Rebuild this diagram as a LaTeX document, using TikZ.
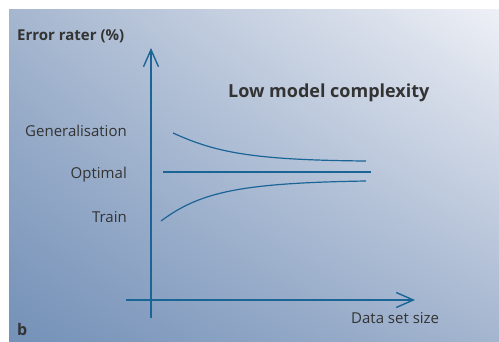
\documentclass[tikz,border=0pt]{standalone}
\usepackage{fontspec}
\setmainfont{Open Sans}
\usetikzlibrary{arrows.meta,shadings}
\definecolor{axisblue}{HTML}{1A6496}
\definecolor{textgray}{HTML}{333333}
\definecolor{bgll}{HTML}{7491B8}
\definecolor{bgul}{HTML}{A5B6CF}
\definecolor{bglr}{HTML}{A4B5CF}
\definecolor{bgur}{HTML}{EEF0F6}
\tikzset{
  axisline/.style={draw=axisblue, line width=1.5pt},
  axisarrow/.style={axisline, -{Straight Barb[length=17pt,width=15pt,line width=1.4pt]}},
  curveline/.style={draw=axisblue, line width=1.2pt},
  lbl/.style={text=textgray, font=\fontsize{15}{17}\selectfont, inner sep=0pt},
  title/.style={text=textgray, font=\bfseries\fontsize{18}{20}\selectfont, inner sep=0pt}
}
\begin{document}
\begin{tikzpicture}[x=1pt, y=-1pt]
  % page and shaded panel
  \useasboundingbox (0,0) rectangle (499,341);
  \fill[white] (0,0) rectangle (499,341);
  \shade[lower left=bgll, upper left=bgul, lower right=bglr, upper right=bgur]
    (9,341) rectangle (499,9);

  % axes
  \coordinate (ybot) at (151,318);
  \coordinate (ytop) at (151,48);
  \coordinate (xleft) at (126,300);
  \coordinate (xright) at (415,300);
  \draw[axisarrow] (ybot) -- (ytop);
  \draw[axisarrow] (xleft) -- (xright);

  % axis labels
  \node[lbl, anchor=west, font=\bfseries\fontsize{15}{17}\selectfont] (ylabel) at (17,36) {Error rater (\%)};
  \node[lbl, anchor=west] (xlabel) at (351,318) {Data set size};
  \node[title, anchor=west] (ttl) at (228,93) {Low model complexity};
  \node[lbl, anchor=west, font=\bfseries\fontsize{16}{18}\selectfont] (panel) at (17,329) {b};

  % curve labels
  \node[lbl, anchor=east] (gen) at (127,131) {Generalisation};
  \node[lbl, anchor=east] (opt) at (127,175) {Optimal};
  \node[lbl, anchor=east] (trn) at (127,217) {Train};

  % curves
  \coordinate (g0) at (173,133);
  \coordinate (g1) at (366,161);
  \coordinate (o0) at (163,172);
  \coordinate (o1) at (371,172);
  \coordinate (t0) at (161,221);
  \coordinate (t1) at (366,181);
  \draw[curveline] (g0) .. controls (215,152) and (250,160) .. (g1);
  \draw[curveline] (o0) -- (o1);
  \draw[curveline] (t0) .. controls (200,192) and (240,183) .. (t1);
\end{tikzpicture}
\end{document}
